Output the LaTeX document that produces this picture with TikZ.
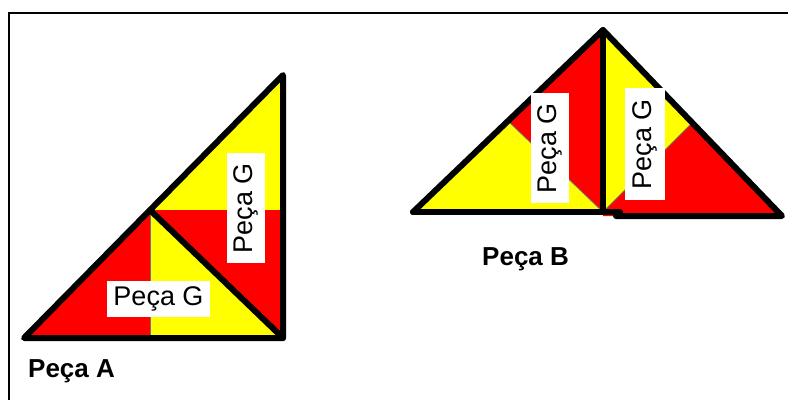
\documentclass[tikz,border=0pt]{standalone}
\usepackage{fontspec}
\setmainfont{Liberation Sans}
\definecolor{pred}{HTML}{FF0000}
\definecolor{pyel}{HTML}{FFFF00}
\begin{document}
\begin{tikzpicture}[x=1pt,y=-1pt,
  outline/.style={line width=6pt, line join=round, line cap=round},
  seam/.style={line width=0.8pt, black!55},
  glabel/.style={fill=white, inner sep=0pt, font=\fontsize{27}{30}\selectfont},
  title/.style={font=\bfseries\fontsize{26}{30}\selectfont, anchor=base west, inner sep=0pt}]
\useasboundingbox (0,0) rectangle (788,400);
\fill[white] (0,0) rectangle (788,400);
% frame
\coordinate (f1) at (788,13);
\coordinate (f2) at (9,13);
\coordinate (f3) at (9,400);
\draw[line width=2pt] (f1) -- (f2) -- (f3);
% ---------- Peça A ----------
\coordinate (a1) at (24,338);
\coordinate (a2) at (283,338);
\coordinate (a3) at (283,75);
\coordinate (am) at (150,210);
\coordinate (ab) at (150,338);
\coordinate (ar) at (283,210);
\fill[pred] (a1) -- (am) -- (ab) -- cycle;
\fill[pyel] (am) -- (ab) -- (a2) -- cycle;
\fill[pyel] (am) -- (a3) -- (ar) -- cycle;
\fill[pred] (am) -- (ar) -- (a2) -- cycle;
\draw[seam] (am) -- (ab);
\draw[outline] (a1) -- (a2) -- (a3) -- cycle;
\draw[outline] (am) -- (a2);
% ---------- Peça B ----------
\coordinate (bl) at (413,212);
\coordinate (bp) at (603,30);
\coordinate (bc) at (603,212);
\coordinate (bd) at (603,216);
\coordinate (br) at (782,216);
\coordinate (bml) at (508,121);
\coordinate (bmr) at (692,123);
\coordinate (bs1) at (620,212);
\coordinate (bs2) at (616,216);
\fill[pyel] (bl) -- (bml) -- (bc) -- cycle;
\fill[pred] (bml) -- (bp) -- (bc) -- cycle;
\fill[pyel] (bp) -- (bmr) -- (bc) -- cycle;
\fill[pred] (bmr) -- (br) -- (bd) -- (bc) -- cycle;
\draw[seam] (bml) -- (bc);
\draw[seam] (bmr) -- (bc);
\draw[outline] (bl) -- (bp) -- (br) -- (bs2);
\draw[outline] (bl) -- (bs1);
\draw[outline] (bp) -- (bc);
% ---------- labels ----------
\node[glabel, minimum width=103pt, minimum height=36pt] (gA1) at (158.5,299) {Peça G};
\node[glabel, rotate=90, minimum width=110pt, minimum height=38pt] (gA2) at (246,208) {Peça G};
\node[glabel, rotate=90, minimum width=110pt, minimum height=38pt] (gB1) at (550,148) {Peça G};
\node[glabel, rotate=90, minimum width=112pt, minimum height=40pt] (gB2) at (645,144) {Peça G};
\node[title] (pA) at (28,377) {Peça A};
\node[title] (pB) at (482,265) {Peça B};
\end{tikzpicture}
\end{document}
